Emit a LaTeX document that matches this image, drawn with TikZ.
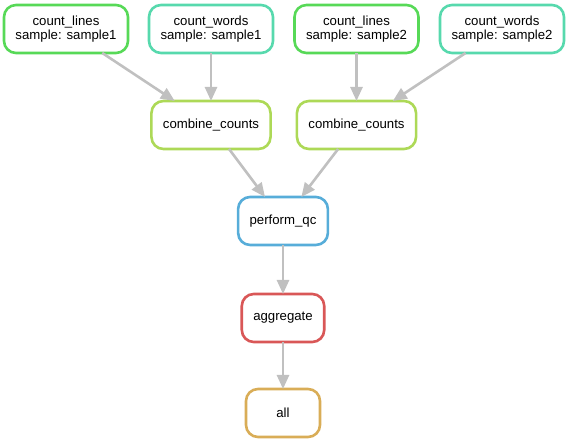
\documentclass[tikz,border=0pt]{standalone}
\usepackage{fontspec}
\setmainfont{Liberation Sans}
\usetikzlibrary{arrows.meta}
\definecolor{rulered}{RGB}{217,87,87}
\definecolor{ruleorange}{RGB}{217,173,87}
\definecolor{rulelime}{RGB}{173,217,87}
\definecolor{rulegreen}{RGB}{87,217,87}
\definecolor{ruleteal}{RGB}{87,217,173}
\definecolor{ruleblue}{RGB}{87,173,217}
\definecolor{edgegrey}{RGB}{192,192,192}
\begin{document}
\begin{tikzpicture}[x=1pt,y=1pt,font=\fontsize{13.2}{14.5}\selectfont,
    rule/.style={draw=#1,line width=2.6pt,rounded corners=12pt,fill=white,
      align=center,inner xsep=11.5pt,inner ysep=2pt,outer sep=0pt,
      minimum width=74pt,minimum height=48pt},
    dep/.style={edgegrey,line width=2.6pt,-{Triangle[length=14pt,width=12pt]}}]
        \useasboundingbox (0,0) rectangle (568,443);
        % top row: counting jobs per sample
        \node[rule=rulegreen] (lines1) at (66,414) {count\_lines\\sample: sample1};
        \node[rule=ruleteal] (words1) at (211,414) {count\_words\\sample: sample1};
        \node[rule=rulegreen] (lines2) at (356.5,414) {count\_lines\\sample: sample2};
        \node[rule=ruleteal] (words2) at (502,414) {count\_words\\sample: sample2};
        % combine step
        \node[rule=rulelime] (comb1) at (211,318) {combine\_counts};
        \node[rule=rulelime] (comb2) at (356.5,318) {combine\_counts};
        % chain down to all
        \node[rule=ruleblue] (qc) at (283,222) {perform\_qc};
        \node[rule=rulered] (agg) at (283,125) {aggregate};
        \node[rule=ruleorange] (all) at (283,30) {all};
        % dependencies
        \draw[dep] (lines1) -- (comb1);
        \draw[dep] (words1) -- (comb1);
        \draw[dep] (lines2) -- (comb2);
        \draw[dep] (words2) -- (comb2);
        \draw[dep] (comb1) -- (qc);
        \draw[dep] (comb2) -- (qc);
        \draw[dep] (qc) -- (agg);
        \draw[dep] (agg) -- (all);
      \end{tikzpicture}
\end{document}
